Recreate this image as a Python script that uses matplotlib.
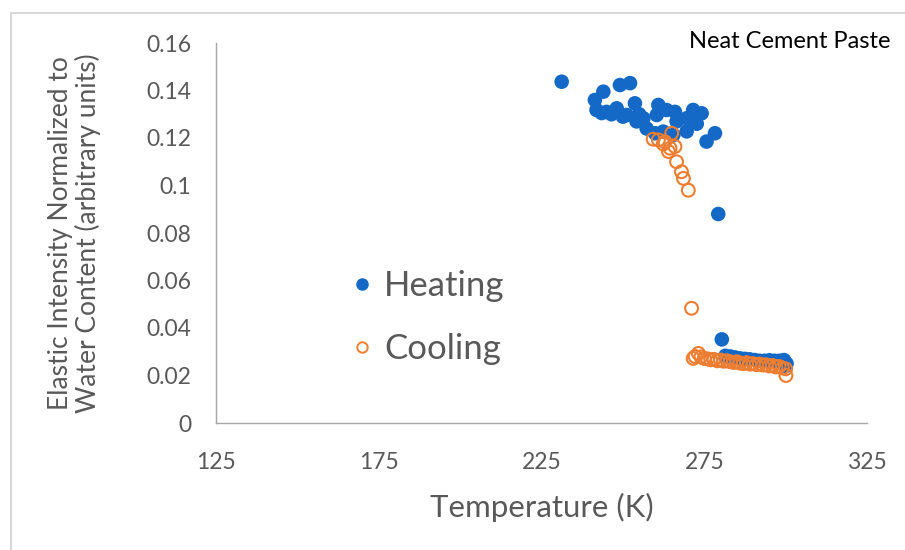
import matplotlib.pyplot as plt
from matplotlib.lines import Line2D
from matplotlib.patches import Rectangle

# heating run (K, normalized elastic intensity)
heat_T = [231.2, 241.4, 241.9, 243.5, 244.0, 245.0, 246.5, 248.1, 249.1, 250.0,
          251.2, 252.2, 253.7, 254.2, 255.0, 256.3, 257.3, 259.9, 260.4, 260.9,
          262.4, 263.4, 265.5, 266.0, 266.5, 269.6, 269.6, 271.6, 272.7, 274.2,
          275.7, 278.3, 279.3, 280.4,
          281.5, 283.0, 284.5, 286.0, 287.5, 289.0, 290.5, 292.0, 293.5, 295.0,
          296.5, 298.0, 299.5, 300.0, 300.3]
heat_I = [0.1437, 0.1360, 0.1318, 0.1305, 0.1395, 0.1310, 0.1300, 0.1325, 0.1423, 0.1290,
          0.1297, 0.1431, 0.1346, 0.1270, 0.1300, 0.1283, 0.1240, 0.1220, 0.1297, 0.1339,
          0.1227, 0.1318, 0.1213, 0.1310, 0.1270, 0.1283, 0.1228, 0.1318, 0.1260, 0.1304,
          0.1185, 0.1220, 0.0880, 0.0352,
          0.0283, 0.0280, 0.0276, 0.0272, 0.0270, 0.0268, 0.0265, 0.0262, 0.0262, 0.0264,
          0.0262, 0.0262, 0.0265, 0.0240, 0.0250]

# cooling run
cool_T = [259.3, 260.9, 262.4, 262.9, 264.0, 264.5, 265.0, 266.0, 266.5, 268.0,
          268.6, 270.1, 271.1,
          271.6, 272.2, 273.2, 274.0, 275.0, 276.0, 277.0, 278.0, 279.0, 280.0,
          281.0, 282.0, 283.0, 284.0, 285.0, 286.0, 287.0, 288.0, 289.0, 290.0,
          291.0, 292.0, 293.0, 294.0, 295.0, 296.0, 297.0, 298.0, 299.0, 300.0, 300.1]
cool_I = [0.1195, 0.1192, 0.1175, 0.1184, 0.1143, 0.1157, 0.1220, 0.1164, 0.1100, 0.1058,
          0.1030, 0.0980, 0.0483,
          0.0272, 0.0280, 0.0293, 0.0278, 0.0272, 0.0270, 0.0266, 0.0268, 0.0262, 0.0265,
          0.0260, 0.0262, 0.0258, 0.0255, 0.0258, 0.0252, 0.0250, 0.0254, 0.0248, 0.0250,
          0.0246, 0.0248, 0.0244, 0.0245, 0.0240, 0.0242, 0.0236, 0.0238, 0.0232, 0.0228, 0.0200]

x_ticks = [125, 175, 225, 275, 325]
y_ticks = [0, 0.02, 0.04, 0.06, 0.08, 0.1, 0.12, 0.14, 0.16]
y_labels = ["0", "0.02", "0.04", "0.06", "0.08", "0.1", "0.12", "0.14", "0.16"]

blue = "#1469C6"
orange = "#ED7D31"
grey_txt = "#595959"

plt.rcParams['font.family'] = ['Lato', 'DejaVu Sans']

fig = plt.figure(figsize=(9.05, 5.5), dpi=100)
ax = fig.add_axes([216/905, 1 - 423/550, (867-216)/905, (423-43)/550])

# outer chart frame
fig.patches.append(Rectangle((11/905, -0.1), 1.2, 1.1 - 13/550, transform=fig.transFigure,
                             fill=False, edgecolor="#D9D9D9", linewidth=1.5))

ax.scatter(heat_T, heat_I, s=110, color=blue, edgecolors="none", zorder=3)
ax.scatter(cool_T, cool_I, s=85, facecolors="none", edgecolors=orange, linewidths=1.5, zorder=4)

ax.set_xlim(125, 325)
ax.set_ylim(0, 0.16)
ax.set_xticks(x_ticks)
ax.set_yticks(y_ticks)
ax.set_yticklabels(y_labels)
ax.tick_params(length=0, labelsize=16.5, colors=grey_txt)
ax.tick_params(axis='y', pad=18)
ax.tick_params(axis='x', pad=21)

for s in ["top", "right"]:
    ax.spines[s].set_visible(False)
for s in ["left", "bottom"]:
    ax.spines[s].set_color("#A6A6A6")
    ax.spines[s].set_linewidth(1.0)

ax.set_xlabel("Temperature (K)", fontsize=22.5, color=grey_txt, labelpad=14)
ax.set_ylabel("Elastic Intensity Normalized to\nWater Content (arbitrary units)",
              fontsize=19, color=grey_txt, linespacing=1.1)
ax.yaxis.set_label_coords(-0.1767, 0.5)

fig.text(890/905, 1 - 42/550, "Neat Cement Paste", ha="right", va="center",
         fontsize=17, color="black")

handles = [Line2D([], [], ls="none", marker="o", ms=8, color=blue, label="Heating"),
           Line2D([], [], ls="none", marker="o", ms=7.5, mfc="none", mec=orange, mew=1.4,
                  label="Cooling")]
leg = ax.legend(handles=handles, loc="upper left", bbox_to_anchor=(320/905, 1 - 239/550),
                bbox_transform=fig.transFigure, frameon=False, fontsize=25,
                handlelength=0.6, handletextpad=0.35, labelspacing=0.88)
for t in leg.get_texts():
    t.set_color(grey_txt)

fig.savefig("out.png", dpi=100)
